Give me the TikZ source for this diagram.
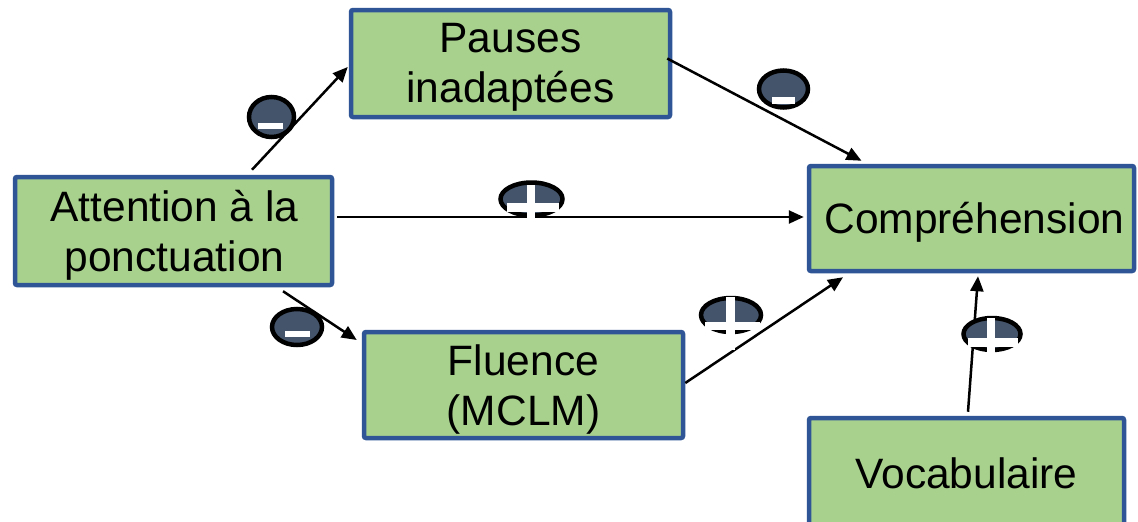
\documentclass[tikz,border=0pt]{standalone}
\usepackage{fontspec}
\setmainfont{Liberation Sans}
\usetikzlibrary{arrows.meta,shapes.geometric}
\definecolor{boxfill}{RGB}{169,209,142}
\definecolor{boxline}{RGB}{47,85,151}
\definecolor{badge}{RGB}{68,84,106}
\tikzset{
  box/.style={draw=boxline, fill=boxfill, line width=4.5pt, rounded corners=2pt, inner sep=0pt},
  txt/.style={align=center, inner sep=0pt, font=\fontsize{42.5}{50}\selectfont},
  conn/.style={line width=2.5pt, -{Triangle[length=15pt,width=13pt]}},
  badgeshape/.style={ellipse, draw=black, fill=badge, line width=4.5pt, inner sep=0pt},
  bar/.style={fill=white, draw=none, inner sep=0pt, rectangle}
}
\begin{document}
\begin{tikzpicture}[x=1pt,y=-1pt]
\clip (0,0) rectangle (1138,522);
\fill[white] (0,0) rectangle (1138,522);
% boxes
\node[box, minimum width=319pt, minimum height=107pt] (pau) at (510.5,63.5) {};
\node[txt] (paut) at ([shift={(0,4)}]pau.center) {Pauses\\inadaptées};
\node[box, minimum width=317pt, minimum height=108pt] (att) at (173.5,231) {};
\node[txt] (attt) at ([shift={(1,4)}]att.center) {Attention à la\\ponctuation};
\node[box, minimum width=325pt, minimum height=105pt] (comp) at (971.5,218.5) {};
\node[txt] (compt) at ([shift={(3,4)}]comp.center) {Compréhension};
\node[box, minimum width=319pt, minimum height=106pt] (flu) at (523.5,385) {};
\node[txt] (flut) at ([shift={(0,4)}]flu.center) {Fluence\\(MCLM)};
\node[box, minimum width=315pt, minimum height=108pt] (voc) at (966.5,472) {};
\node[txt] (voct) at ([shift={(0,1)}]voc.center) {Vocabulaire};
% connectors
\draw[conn] ([shift={(78.5,-5)}]att.north) -- ([shift={(-1,3.5)}]pau.west);
\draw[conn] ([shift={(-5,-5)}]pau.east) -- ([shift={(-110,-3)}]comp.north);
\draw[conn] ([shift={(3,-14)}]att.east) -- ([shift={(-3,-1.5)}]comp.west);
\draw[conn] ([shift={(109.5,4)}]att.south) -- ([shift={(-5,-45)}]flu.west);
\draw[conn] ([shift={(0,-2)}]flu.east) -- ([shift={(-128.5,4)}]comp.south);
\draw[conn] ([shift={(1.5,-4)}]voc.north) -- ([shift={(6.5,3)}]comp.south);
% badges minus
\node[badgeshape, minimum width=45pt, minimum height=40pt] (m1) at (271.5,117) {};
\node[bar, minimum width=25pt, minimum height=6pt] (m1b) at (270.5,126) {};
\node[badgeshape, minimum width=49pt, minimum height=37pt] (m2) at (783.5,89) {};
\node[bar, minimum width=23pt, minimum height=7pt] (m2b) at (783.5,100.5) {};
\node[badgeshape, minimum width=50pt, minimum height=36pt] (m3) at (297,327) {};
\node[bar, minimum width=25pt, minimum height=6pt] (m3b) at (297.5,334) {};
% badges plus
\node[badgeshape, minimum width=62pt, minimum height=33pt] (p1) at (531.5,199) {};
\node[bar, minimum width=52pt, minimum height=9pt] (p1h) at (533,207.5) {};
\node[bar, minimum width=8pt, minimum height=37pt] (p1v) at (531,203.5) {};
\node[badgeshape, minimum width=60pt, minimum height=34pt] (p2) at (731,315) {};
\node[bar, minimum width=55pt, minimum height=8pt] (p2h) at (732.5,326) {};
\node[bar, minimum width=9pt, minimum height=53pt] (p2v) at (730.5,323.5) {};
\node[badgeshape, minimum width=57pt, minimum height=32pt] (p3) at (992,334) {};
\node[bar, minimum width=50pt, minimum height=9pt] (p3h) at (993,342.5) {};
\node[bar, minimum width=8pt, minimum height=48pt] (p3v) at (991,342) {};
\end{tikzpicture}
\end{document}
